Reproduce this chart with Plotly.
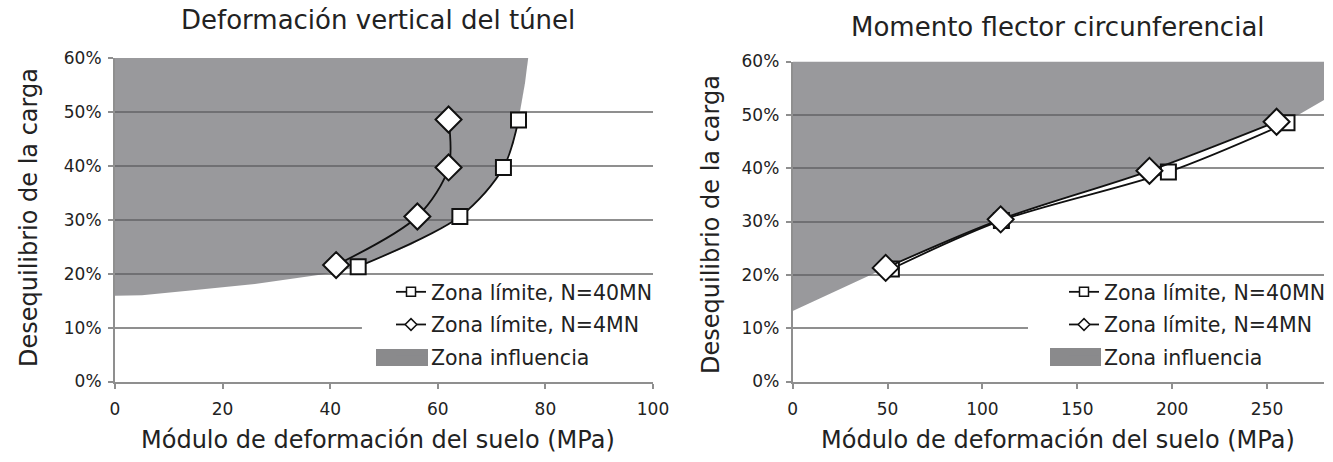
import plotly.graph_objects as go

W, H = 1333, 462

# ---- Left panel: vertical tunnel deformation ----
def_imb_40 = [0.213, 0.306, 0.397, 0.485]
def_imb_4 = [0.216, 0.306, 0.397, 0.486]
def_mod_40 = [45.2, 64.1, 72.2, 75.0]
def_mod_4 = [41.1, 56.2, 62.0, 62.0]
def_zone_x = [0, 76.8, 76.2, 75.0, 74.0, 72.2, 69.0, 64.1, 55.0, 45.2, 39.4, 26.0, 14.0, 5.0, 0]
def_zone_y = [0.60, 0.60, 0.553, 0.485, 0.44, 0.397, 0.35, 0.306, 0.253, 0.213, 0.20, 0.181, 0.169, 0.160, 0.159]
def_xticks = [0, 20, 40, 60, 80, 100]

# ---- Right panel: circumferential bending moment ----
mom_imb_40 = [0.211, 0.302, 0.393, 0.485]
mom_imb_4 = [0.213, 0.304, 0.395, 0.487]
mom_mod_40 = [52.0, 110.0, 198.0, 260.5]
mom_mod_4 = [49.0, 109.6, 188.0, 255.0]
mom_zone_x = [0, 280, 280, 266.6, 255.0, 188.0, 109.6, 49.0, 0]
mom_zone_y = [0.60, 0.60, 0.528, 0.50, 0.487, 0.395, 0.304, 0.213, 0.132]
mom_xticks = [0, 50, 100, 150, 200, 250]

yticks = [0, 0.1, 0.2, 0.3, 0.4, 0.5, 0.6]

titles = ["Deformación vertical del túnel", "Momento flector circunferencial"]
x_title = "Módulo de deformación del suelo (MPa)"
y_title = "Desequilibrio de la carga"
names = ["Zona límite, N=40MN", "Zona límite, N=4MN", "Zona influencia"]

FONT = "DejaVu Sans"
TXT = "#222222"
GRID = "#8f8f8f"
ZONE = "rgba(96,96,100,0.64)"
ZONE_LEG = "#8a8a8c"

fig = go.Figure()


def add_panel(xa, ya, legend, zx, zy, m40, y40, m4, y4):
    fig.add_trace(go.Scatter(x=zx, y=zy, mode="lines", fill="toself",
                             fillcolor=ZONE, line=dict(width=0),
                             xaxis=xa, yaxis=ya, showlegend=False, hoverinfo="skip"))
    fig.add_trace(go.Scatter(x=m40, y=y40, mode="lines+markers",
                             line=dict(color="#111111", width=1.8, shape="spline", smoothing=0.9),
                             marker=dict(symbol="square", size=15, color="white",
                                         line=dict(color="#111111", width=2)),
                             xaxis=xa, yaxis=ya, showlegend=False))
    fig.add_trace(go.Scatter(x=m4, y=y4, mode="lines+markers",
                             line=dict(color="#111111", width=1.8, shape="spline", smoothing=0.9),
                             marker=dict(symbol="diamond", size=20, color="white",
                                         line=dict(color="#111111", width=2)),
                             xaxis=xa, yaxis=ya, showlegend=False))
    # legend entries
    fig.add_trace(go.Scatter(x=[None], y=[None], mode="lines+markers", name=names[0],
                             line=dict(color="#111111", width=1.8),
                             marker=dict(symbol="square", size=9, color="white",
                                         line=dict(color="#111111", width=1.5)),
                             xaxis=xa, yaxis=ya, legend=legend, legendgroup=legend + "a"))
    fig.add_trace(go.Scatter(x=[None], y=[None], mode="lines+markers", name=names[1],
                             line=dict(color="#111111", width=1.8),
                             marker=dict(symbol="diamond", size=9, color="white",
                                         line=dict(color="#111111", width=1.5)),
                             xaxis=xa, yaxis=ya, legend=legend, legendgroup=legend + "b"))
    fig.add_trace(go.Scatter(x=[None], y=[None], mode="lines", fill="toself", name=names[2],
                             fillcolor=ZONE_LEG, line=dict(width=0, color=ZONE_LEG),
                             xaxis=xa, yaxis=ya, legend=legend, legendgroup=legend + "c"))


add_panel("x", "y", "legend", def_zone_x, def_zone_y, def_mod_40, def_imb_40, def_mod_4, def_imb_4)
add_panel("x2", "y2", "legend2", mom_zone_x, mom_zone_y, mom_mod_40, mom_imb_40, mom_mod_4, mom_imb_4)

xdom1 = [115 / W, 653 / W]
xdom2 = [792.7 / W, 1324 / W]
ydom1 = [1 - 381.5 / H, 1 - 58 / H]
ydom2 = [1 - 381.5 / H, 1 - 61.5 / H]

xcommon = dict(showgrid=False, zeroline=False, showline=True, linecolor=GRID, linewidth=2,
               ticks="outside", ticklen=5, tickwidth=2, tickcolor=GRID,
               tickfont=dict(family=FONT, size=17, color=TXT), ticklabelstandoff=6,
               automargin=False)
ycommon = dict(showgrid=True, gridcolor=GRID, gridwidth=2, zeroline=False, showline=True,
               linecolor=GRID, linewidth=2, ticks="outside", ticklen=5, tickwidth=2,
               tickcolor=GRID, tickformat=".0%", tickvals=yticks, range=[0, 0.6],
               tickfont=dict(family=FONT, size=17, color=TXT), ticklabelstandoff=3,
               automargin=False)

leg_common = dict(bgcolor="rgba(0,0,0,0)", borderwidth=0, xanchor="left", yanchor="top",
                  font=dict(family=FONT, size=20.5, color=TXT),
                  traceorder="grouped", tracegroupgap=3, itemwidth=30)

# white panels behind the legends hide the gridlines there (drawn under the traces)
legend_boxes = [
    dict(xref="x", yref="y", x0=45.9, x1=102, y0=0.03, y1=0.19),
    dict(xref="x2", yref="y2", x0=124, x1=284, y0=0.03, y1=0.19),
]
shapes = [dict(type="rect", layer="between", fillcolor="white", line=dict(width=0), **b)
          for b in legend_boxes]
# larger swatches for the "Zona influencia" legend entries
for sx0, sx1, sy0, sy1 in ((376, 428, 349, 366), (1050, 1101, 348, 366)):
    shapes.append(dict(type="rect", xref="paper", yref="paper", layer="above",
                       x0=sx0 / W, x1=sx1 / W, y0=1 - sy1 / H, y1=1 - sy0 / H,
                       fillcolor=ZONE_LEG, line=dict(width=0)))

fig.update_layout(
    width=W, height=H, template="none",
    margin=dict(l=0, r=0, t=0, b=0),
    paper_bgcolor="white", plot_bgcolor="rgba(0,0,0,0)",
    xaxis=dict(domain=xdom1, anchor="y", range=[0, 100], tickvals=def_xticks, **xcommon),
    yaxis=dict(domain=ydom1, anchor="x", **ycommon),
    xaxis2=dict(domain=xdom2, anchor="y2", range=[0, 280], tickvals=mom_xticks, **xcommon),
    yaxis2=dict(domain=ydom2, anchor="x2", **ycommon),
    legend=dict(x=391 / W, y=1 - 272 / H, **leg_common),
    legend2=dict(x=1064 / W, y=1 - 272 / H, **leg_common),
    showlegend=True,
    shapes=shapes,
)

ann = []
ann.append(dict(text=titles[0], x=378 / W, y=1 - 20 / H, xref="paper", yref="paper",
                xanchor="center", yanchor="middle",
                showarrow=False, font=dict(family=FONT, size=26, color=TXT)))
ann.append(dict(text=titles[1], x=1058 / W, y=1 - 27 / H, xref="paper", yref="paper",
                xanchor="center", yanchor="middle",
                showarrow=False, font=dict(family=FONT, size=26, color=TXT)))
for cx in (378, 1058):
    ann.append(dict(text=x_title, x=cx / W, y=1 - 440 / H, xref="paper", yref="paper",
                    xanchor="center", yanchor="middle",
                    showarrow=False, font=dict(family=FONT, size=24, color=TXT)))
for cx, cy in ((29, 218), (711, 225)):
    ann.append(dict(text=y_title, x=cx / W, y=1 - cy / H, xref="paper", yref="paper",
                    xanchor="center", yanchor="middle",
                    showarrow=False, textangle=-90, font=dict(family=FONT, size=24, color=TXT)))
fig.update_layout(annotations=ann)

fig.write_html("out.html")
